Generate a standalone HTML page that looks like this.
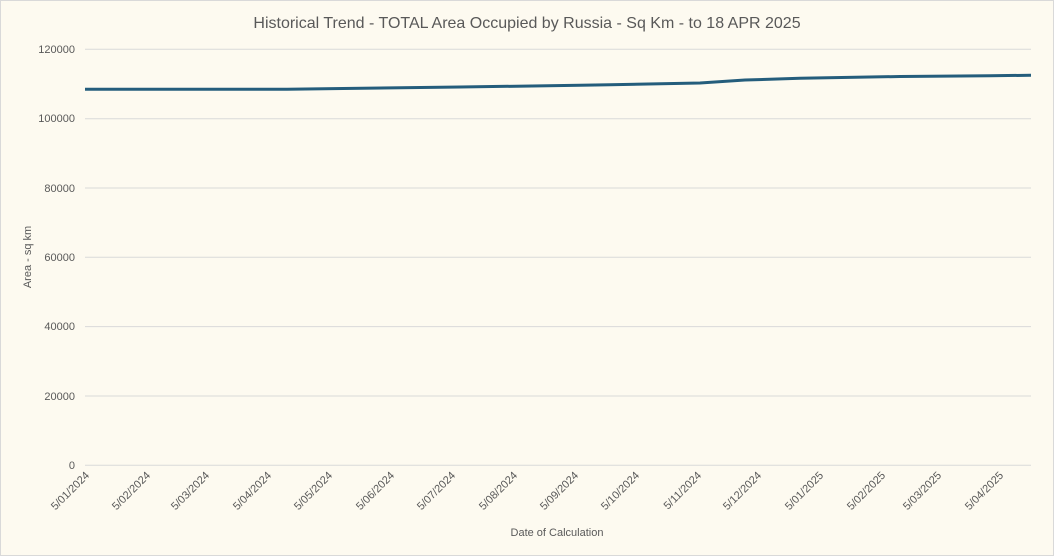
<!DOCTYPE html>
<html><head><style>
body{margin:0;background:#fdfaf0;}
svg{display:block;font-family:"Liberation Sans",sans-serif;}
</style></head><body>
<svg width="1054" height="556" xmlns="http://www.w3.org/2000/svg">
<rect x="0.5" y="0.5" width="1053" height="555" fill="#fdfaf0" stroke="#d9d9d9"/>
<text x="527" y="28" text-anchor="middle" font-size="16" fill="#595959">Historical Trend - TOTAL Area Occupied by Russia - Sq Km - to 18 APR 2025</text>
<g stroke="#d9d9d9" stroke-width="1">
<line x1="85" x2="1031" y1="49.3" y2="49.3"/>
<line x1="85" x2="1031" y1="118.7" y2="118.7"/>
<line x1="85" x2="1031" y1="188" y2="188"/>
<line x1="85" x2="1031" y1="257.3" y2="257.3"/>
<line x1="85" x2="1031" y1="326.6" y2="326.6"/>
<line x1="85" x2="1031" y1="396" y2="396"/>
<line x1="85" x2="1031" y1="465.3" y2="465.3"/>
</g>
<g font-size="11" fill="#595959" text-anchor="end">
<text x="75" y="53">120000</text>
<text x="75" y="122">100000</text>
<text x="75" y="192">80000</text>
<text x="75" y="261">60000</text>
<text x="75" y="330">40000</text>
<text x="75" y="400">20000</text>
<text x="75" y="469">0</text>
</g>
<text transform="translate(31,257) rotate(-90)" text-anchor="middle" font-size="11" fill="#595959">Area - sq km</text>
<text x="557" y="536" text-anchor="middle" font-size="11" fill="#595959">Date of Calculation</text>
<polyline fill="none" stroke="#245d7c" stroke-width="3" points="85,89.3 287,89.3 343,88.5 460,87 580,85.3 610,84.7 700,83 745,80 800,78.3 900,76.5 990,75.7 1031,75.3"/>
<g font-size="11" fill="#595959" text-anchor="end">
<text transform="translate(90,476) rotate(-45)">5/01/2024</text>
<text transform="translate(151,476) rotate(-45)">5/02/2024</text>
<text transform="translate(210,476) rotate(-45)">5/03/2024</text>
<text transform="translate(272,476) rotate(-45)">5/04/2024</text>
<text transform="translate(333,476) rotate(-45)">5/05/2024</text>
<text transform="translate(395,476) rotate(-45)">5/06/2024</text>
<text transform="translate(456,476) rotate(-45)">5/07/2024</text>
<text transform="translate(518,476) rotate(-45)">5/08/2024</text>
<text transform="translate(579,476) rotate(-45)">5/09/2024</text>
<text transform="translate(640,476) rotate(-45)">5/10/2024</text>
<text transform="translate(702,476) rotate(-45)">5/11/2024</text>
<text transform="translate(762,476) rotate(-45)">5/12/2024</text>
<text transform="translate(824,476) rotate(-45)">5/01/2025</text>
<text transform="translate(886,476) rotate(-45)">5/02/2025</text>
<text transform="translate(942,476) rotate(-45)">5/03/2025</text>
<text transform="translate(1004,476) rotate(-45)">5/04/2025</text>
</g>
</svg>
</body></html>
